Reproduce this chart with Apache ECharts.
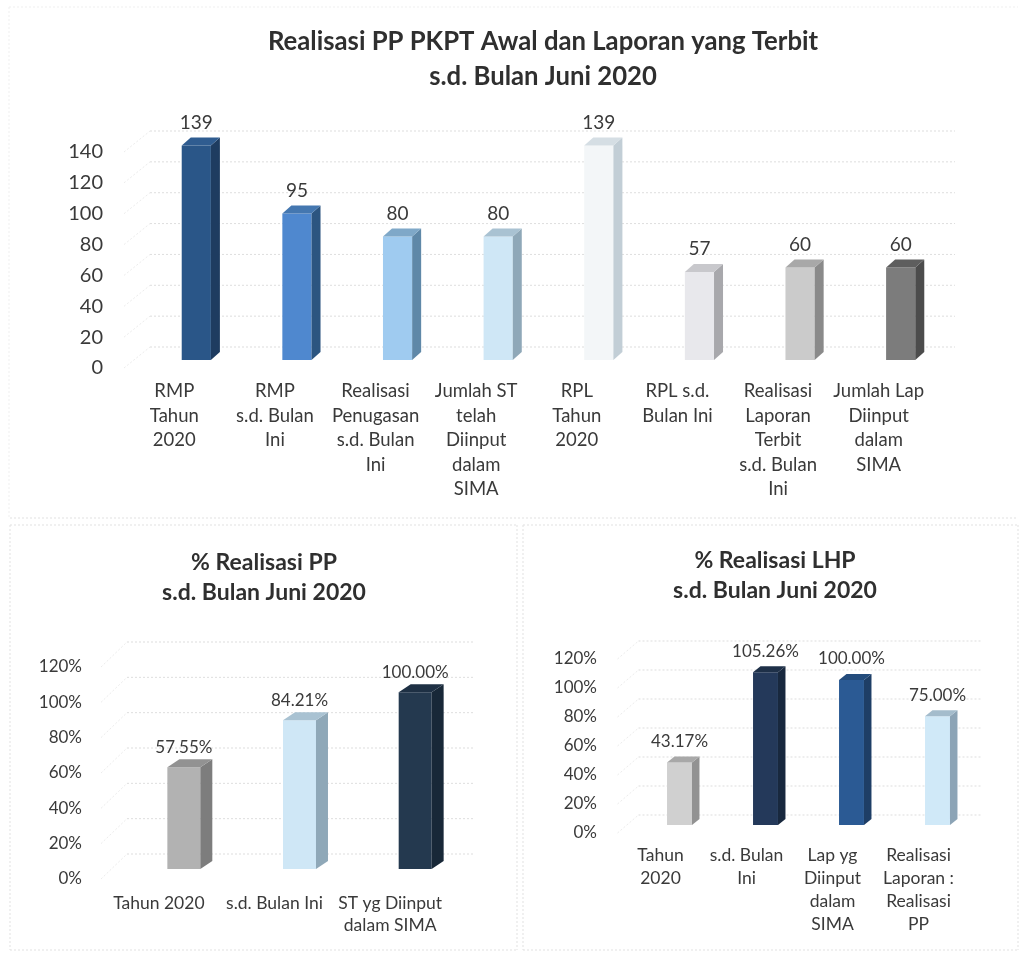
<!DOCTYPE html>
<html><head><meta charset="utf-8">
<style>html,body{margin:0;padding:0;background:#fff}#c{width:1021px;height:956px}</style>
<script src="https://cdn.jsdelivr.net/npm/echarts@6/dist/echarts.min.js"></script>
</head><body><div id="c"></div>
<script>
var catsA = ['RMP\nTahun\n2020','RMP\ns.d. Bulan\nIni','Realisasi\nPenugasan\ns.d. Bulan\nIni','Jumlah ST\ntelah\nDiinput\ndalam\nSIMA','RPL\nTahun\n2020','RPL s.d.\nBulan Ini','Realisasi\nLaporan\nTerbit\ns.d. Bulan\nIni','Jumlah Lap\nDiinput\ndalam\nSIMA'];
var valsA = [139,95,80,80,139,57,60,60];
var ticksA = [0,20,40,60,80,100,120,140];
var colorsA = [['#2a5688','#1e3c60','#2f5c90'],['#4f88cf','#2c5580','#4477b0'],['#9fcbf0','#5f88a8','#7fa8c8'],['#cfe7f6','#8fa8b8','#a9c2d2'],['#f3f6f8','#c2ced6','#d5dee4'],['#e8e8ec','#a8a8ac','#c8c8cc'],['#cbcbcb','#8a8a8a','#a8a8a8'],['#7c7c7c','#4c4c4c','#5e5e5e']];

var catsB = ['Tahun 2020','s.d. Bulan Ini','ST yg Diinput\ndalam SIMA'];
var valsB = [57.55,84.21,100.00];
var ticksB = [0,20,40,60,80,100,120];
var colorsB = [['#b2b2b2','#7d7d7d','#929292'],['#cfe7f6','#8fa8b8','#a9c2d2'],['#24394f','#182838','#1e3044']];

var catsC = ['Tahun\n2020','s.d. Bulan\nIni','Lap yg\nDiinput\ndalam\nSIMA','Realisasi\nLaporan :\nRealisasi\nPP'];
var valsC = [43.17,105.26,100.00,75.00];
var ticksC = [0,20,40,60,80,100,120];
var colorsC = [['#d0d0d0','#929292','#a8a8a8'],['#24395a','#18283e','#1e3048'],['#2b5a94','#1e3e66','#244c7c'],['#d0e9f8','#8ca4b6','#a4bccc']];

var FONT = 'Lato, "Open Sans", sans-serif', INK = '#3a3a3a';

function wall(idx, ticks, wdx, wdy){
  return {type:'custom', xAxisIndex:idx, yAxisIndex:idx, silent:true, z:1, animation:false, clip:false,
    data: ticks.map(function(t){return [0,t];}),
    encode:{x:0,y:1},
    renderItem:function(p,api){
      var pt = api.coord([0,api.value(1)]);
      var cs = p.coordSys, x0 = cs.x, x1 = cs.x+cs.width, y = pt[1];
      return {type:'group', children:[
        {type:'line', shape:{x1:x0,y1:y,x2:x0+wdx,y2:y+wdy}, style:{stroke:'#ececec', lineWidth:1, lineDash:[2,2]}},
        {type:'line', shape:{x1:x0+wdx,y1:y+wdy,x2:x1+wdx,y2:y+wdy}, style:{stroke:'#dedede', lineWidth:1, lineDash:[2,2]}}
      ]};
    }};
}
function bars(idx, vals, colors, o){
  return {type:'custom', xAxisIndex:idx, yAxisIndex:idx, z:3, animation:false, clip:false,
    data: vals.map(function(v,i){return [i,v];}),
    encode:{x:0,y:1},
    renderItem:function(p,api){
      var i = api.value(0), v = api.value(1);
      var t = api.coord([i,v]), b = api.coord([i,0]);
      var w = api.size([1,0])[0]*o.w;
      var xl = t[0]+o.dx-w/2, xr = xl+w, yt = t[1]+o.dy, yb = b[1]+o.dy;
      var c = colors[p.dataIndex], dx = o.ddx, dy = o.ddy;
      return {type:'group', children:[
        {type:'rect', shape:{x:xl,y:yt,width:w,height:yb-yt}, style:{fill:c[0]}},
        {type:'polygon', shape:{points:[[xr,yt],[xr+dx,yt+dy],[xr+dx,yb+dy],[xr,yb]]}, style:{fill:c[1]}},
        {type:'polygon', shape:{points:[[xl,yt],[xl+dx,yt+dy],[xr+dx,yt+dy],[xr,yt]]}, style:{fill:c[2]}},
        {type:'text', x:xl+w/2, y:yt+dy-o.ly, style:{text:o.fmt(v), font:o.fs+'px '+FONT, fill:INK, textAlign:'center', textVerticalAlign:'middle'}}
      ]};
    }};
}
function pct(v){return v.toFixed(2)+'%';}
function plain(v){return String(v);}
function xA(i,cats,fs,lh,m){return {type:'category',gridIndex:i,data:cats,axisLine:{show:false},axisTick:{show:false},splitLine:{show:false},
  axisLabel:{interval:0,hideOverlap:false,color:INK,fontFamily:FONT,fontSize:fs,lineHeight:lh,margin:m}};}
function yA(i,max,fs,m,f){return {type:'value',gridIndex:i,min:0,max:max,interval:20,axisLine:{show:false},axisTick:{show:false},splitLine:{show:false},
  axisLabel:{color:INK,fontFamily:FONT,fontSize:fs,margin:m,formatter:f}};}
function ttl(text,cx,top,fs,lh){return {text:text,left:cx,top:top,textAlign:'center',textStyle:{fontFamily:FONT,fontWeight:'bold',fontSize:fs,lineHeight:lh,color:'#2f2f2f'}};}
function dash(x1,y1,x2,y2,c){return {type:'line',shape:{x1:x1,y1:y1,x2:x2,y2:y2},style:{stroke:c||'#e2e2e2',lineWidth:1,lineDash:[2,2]},silent:true};}

var chart = echarts.init(document.getElementById('c'), null, {renderer:'canvas'});
chart.setOption({
  backgroundColor:'#ffffff', animation:false,
  title:[ttl('Realisasi PP PKPT Awal dan Laporan yang Terbit\ns.d. Bulan Juni 2020',538,19,25.7,35),
         ttl('% Realisasi PP\ns.d. Bulan Juni 2020',259,543,23,30),
         ttl('% Realisasi LHP\ns.d. Bulan Juni 2020',770,541,23,30)],
  grid:[{left:124,top:152,width:805,height:216},
        {left:101,top:667,width:347,height:212},
        {left:617.5,top:659,width:344,height:174}],
  xAxis:[xA(0,catsA,18.5,24.5,11),xA(1,catsB,17.5,22,13),xA(2,catsC,17.5,23,11)],
  yAxis:[yA(0,140,20,21,plain),yA(1,120,17,19,function(v){return v+'%';}),yA(2,120,17,20.5,function(v){return v+'%';})],
  series:[
    wall(0,ticksA,26,-21),
    bars(0,valsA,colorsA,{w:0.29,dx:22,dy:-8,ddx:9,ddy:-8,ly:15,fs:19,fmt:plain}),
    wall(1,ticksB,26,-25),
    bars(1,valsB,colorsB,{w:0.285,dx:25,dy:-10,ddx:12,ddy:-8,ly:12,fs:17,fmt:pct}),
    wall(2,ticksC,21,-18),
    bars(2,valsC,colorsC,{w:0.29,dx:19,dy:-8,ddx:7.5,ddy:-6,ly:15,fs:17,fmt:pct})
  ],
  graphic:[dash(9,7,1018,7,'#efefef'),dash(9,7,9,518,'#efefef'),dash(10,518,1018,518),dash(10,525,517,525),dash(523,525,1018,525),dash(10,525,10,950),dash(517,525,517,950),dash(523,525,523,950),dash(10,950,517,950),dash(523,950,1018,950),dash(1018,525,1018,950)]
});
</script></body></html>
